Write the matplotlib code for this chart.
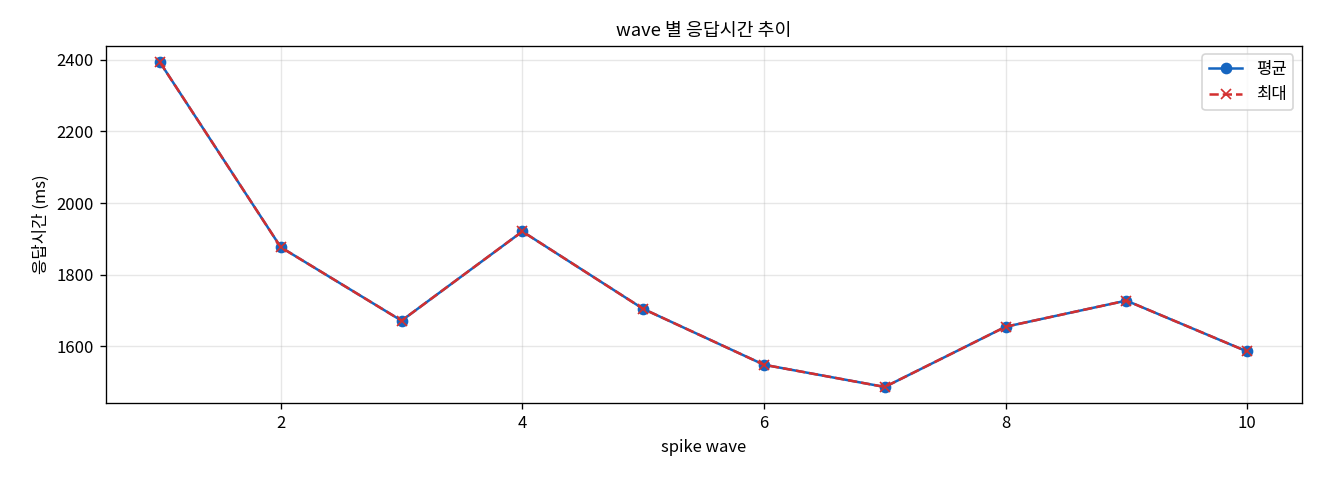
import matplotlib
matplotlib.use("Agg")
from matplotlib import pyplot as plt

plt.rcParams['font.family'] = ['Noto Sans CJK KR', 'DejaVu Sans']
plt.rcParams['axes.unicode_minus'] = False

# === DATA ===
waves = [1, 2, 3, 4, 5, 6, 7, 8, 9, 10]
avg_ms = [2393, 1877, 1672, 1921, 1705, 1549, 1487, 1655, 1728, 1586]
max_ms = [2393, 1877, 1672, 1921, 1705, 1549, 1487, 1655, 1728, 1586]

# === PLOT ===
fig, ax = plt.subplots(figsize=(11, 4), dpi=120)

ax.plot(waves, avg_ms, marker='o', color='#1565C0', linewidth=1.5, markersize=6, label='평균')
ax.plot(waves, max_ms, marker='x', linestyle='--', color='#D32F2F', linewidth=1.5, markersize=6, label='최대')

ax.set_title('wave 별 응답시간 추이', fontsize=11)
ax.set_xlabel('spike wave', fontsize=10)
ax.set_ylabel('응답시간 (ms)', fontsize=10)
ax.grid(True, alpha=0.3)
ax.legend(loc='upper right')

fig.subplots_adjust(left=0.08, right=0.986, top=0.904, bottom=0.16)
fig.savefig('out.png')
